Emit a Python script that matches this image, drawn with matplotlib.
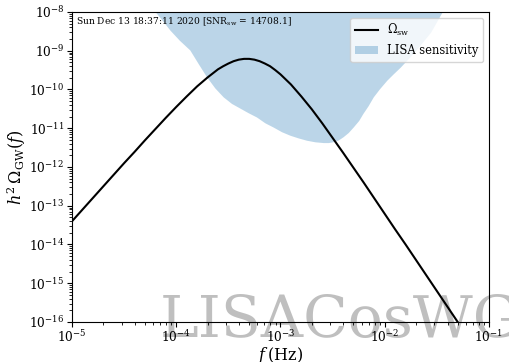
import numpy as np
import matplotlib
matplotlib.use("Agg")
import matplotlib.pyplot as plt
from matplotlib.ticker import LogLocator, NullFormatter

plt.rcParams["font.family"] = ["DejaVu Serif"]
plt.rcParams["mathtext.fontset"] = "dejavuserif"

# Sound-wave spectrum: log10 f [Hz] and log10 h^2 Omega
sw_logf = [-5.00, -4.90, -4.80, -4.70, -4.60, -4.50, -4.40, -4.30, -4.20,
           -4.10, -4.00, -3.90, -3.80, -3.70, -3.60, -3.55, -3.50, -3.45,
           -3.40, -3.35, -3.30, -3.25, -3.20, -3.15, -3.10, -3.05, -3.00,
           -2.90, -2.80, -2.70, -2.60, -2.50, -2.40, -2.30, -2.20, -2.10,
           -2.00, -1.90, -1.80, -1.70, -1.60, -1.50, -1.40, -1.30, -1.20]
sw_logomega = [-13.40, -13.10, -12.80, -12.50, -12.20, -11.90, -11.61, -11.31,
               -11.02, -10.73, -10.45, -10.18, -9.92, -9.69, -9.48, -9.40,
               -9.33, -9.27, -9.23, -9.21, -9.21, -9.23, -9.27, -9.33, -9.40,
               -9.50, -9.61, -9.87, -10.18, -10.51, -10.87, -11.25, -11.63,
               -12.02, -12.41, -12.81, -13.21, -13.61, -14.00, -14.40, -14.80,
               -15.20, -15.60, -16.00, -16.40]

# LISA sensitivity curve: log10 f [Hz] and log10 h^2 Omega
lisa_logf = [-4.24, -4.20, -4.13, -4.06, -3.97, -3.87, -3.79, -3.71, -3.63,
             -3.55, -3.47, -3.39, -3.31, -3.23, -3.15, -3.07, -2.99, -2.91,
             -2.83, -2.75, -2.67, -2.59, -2.54, -2.50, -2.45, -2.40, -2.35,
             -2.30, -2.25, -2.21, -2.16, -2.11, -2.05, -1.98, -1.92, -1.85,
             -1.76, -1.66, -1.56, -1.45, -1.40]
lisa_logomega = [-7.90, -8.00, -8.23, -8.47, -8.73, -8.98, -9.33, -9.67,
                 -9.96, -10.19, -10.36, -10.48, -10.60, -10.71, -10.86,
                 -10.97, -11.09, -11.18, -11.25, -11.31, -11.35, -11.37,
                 -11.37, -11.35, -11.31, -11.22, -11.11, -10.96, -10.80,
                 -10.62, -10.42, -10.19, -9.98, -9.76, -9.60, -9.42, -9.16,
                 -8.85, -8.52, -8.00, -7.80]

snr_sw = 14708.1
timestamp = "Sun Dec 13 18:37:11 2020"

fig = plt.figure(figsize=(5.10, 3.62), dpi=100)
ax = fig.add_axes([0.1412, 0.1105, 0.8176, 0.8564])

f_sw = 10.0 ** np.array(sw_logf)
om_sw = 10.0 ** np.array(sw_logomega)
f_lisa = 10.0 ** np.array(lisa_logf)
om_lisa = 10.0 ** np.array(lisa_logomega)

# watermark sits under the data but above the axes background
ax.text(0.313, 0.069, "LISACosWG", transform=fig.transFigure, fontsize=42,
        color="gray", alpha=0.5, ha="left", va="baseline", clip_on=False,
        zorder=0.5)

ax.fill_between(f_lisa, om_lisa, 1e-5, color="C0", alpha=0.3, lw=0,
                label="LISA sensitivity", zorder=1)
ax.plot(f_sw, om_sw, color="black", lw=1.5, label=r"$\Omega_{\rm sw}$", zorder=2)

ax.set_xscale("log")
ax.set_yscale("log")
ax.set_xlim(1e-5, 1e-1)
ax.set_ylim(1e-16, 1e-8)

ax.xaxis.set_major_locator(LogLocator(base=10, numticks=20))
ax.yaxis.set_major_locator(LogLocator(base=10, numticks=20))
ax.xaxis.set_minor_locator(LogLocator(base=10, subs=np.arange(2, 10), numticks=100))
ax.yaxis.set_minor_locator(LogLocator(base=10, subs=np.arange(2, 10), numticks=100))
ax.xaxis.set_minor_formatter(NullFormatter())
ax.yaxis.set_minor_formatter(NullFormatter())
ax.tick_params(axis="both", which="major", labelsize=8.8)
ax.tick_params(axis="x", which="major", pad=1.5)
ax.tick_params(axis="y", which="major", pad=2)

ax.set_xlabel(r"$f\,$(Hz)", fontsize=11.5, labelpad=0)
ax.set_ylabel(r"$h^2\,\Omega_{\rm GW}(f)$", fontsize=11.5, labelpad=1)

ax.text(0.01, 0.99, timestamp + r" [SNR$_{\rm sw}$ = " + f"{snr_sw:.1f}]",
        transform=ax.transAxes, ha="left", va="top", fontsize=6.6)

handles, labels = ax.get_legend_handles_labels()
ax.legend(handles[::-1], labels[::-1], loc="upper right", fontsize=8.3)

fig.savefig("out.png", dpi=100)
